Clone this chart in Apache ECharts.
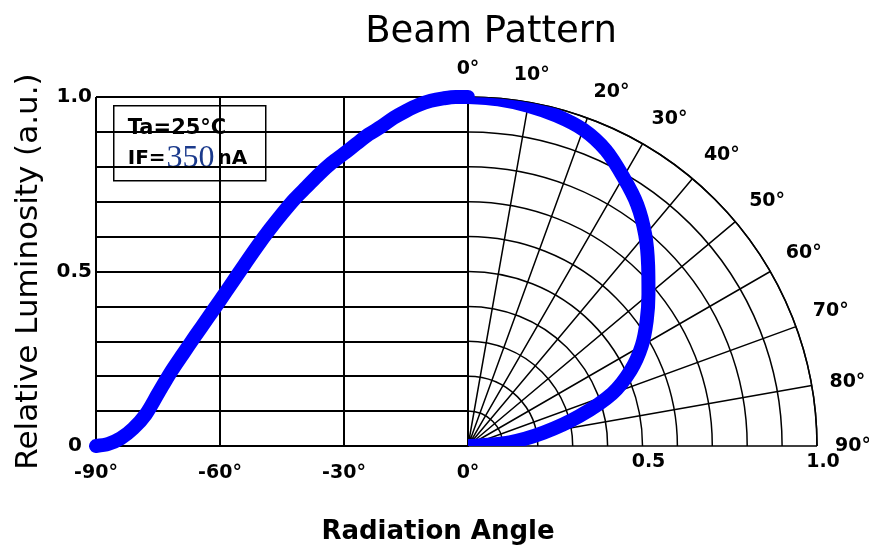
<!DOCTYPE html>
<html>
<head>
<meta charset="utf-8">
<script src="https://cdn.jsdelivr.net/npm/echarts@6/dist/echarts.min.js"></script>
<style>
  html, body { margin: 0; padding: 0; background: #ffffff; }
  #chart { width: 869px; height: 549px; }
</style>
</head>
<body>
<div id="chart"></div>
<script>
// left half: cartesian, angle (deg) vs relative luminosity
const leftAngles = [-90, -87, -84, -81, -78, -75, -72, -69, -66, -63, -60, -57, -54, -51, -48, -45,
  -42, -39, -36, -33, -30, -27, -24, -21, -18, -15, -12, -9, -6, -3, 0];
const leftValues = [0, 0.006, 0.022, 0.05, 0.09, 0.15, 0.21, 0.263, 0.315, 0.366, 0.417, 0.469, 0.521, 0.572, 0.62, 0.665,
  0.707, 0.743, 0.779, 0.811, 0.838, 0.866, 0.893, 0.915, 0.94, 0.96, 0.977, 0.989, 0.996, 1.0, 1.0];

// right half: polar, angle (deg) vs relative luminosity
const polarAngles = [0, 5, 10, 15, 20, 25, 30, 35, 40, 45, 50, 55, 60, 65, 70, 75, 80, 85, 90];
const polarValues = [1.0, 0.997, 0.99, 0.98, 0.965, 0.935, 0.89, 0.845, 0.79, 0.73, 0.675, 0.625, 0.575, 0.515, 0.44, 0.33, 0.22, 0.12, 0];

const xTicks = [-90, -60, -30, 0];
const yTickLabels = { 0: '0', 0.5: '0.5', 1: '1.0' };
const radiusTickLabels = { 0.5: '0.5', 1: '1.0' };

const CX = 468, CY = 446, R = 349;
const tickFont = { fontFamily: 'DejaVu Sans', fontWeight: 'bold', fontSize: 19, color: '#000' };

const chart = echarts.init(document.getElementById('chart'));

function pick(map, v) {
  for (const k in map) {
    if (Math.abs(Number(k) - v) < 1e-6) return map[k];
  }
  return '';
}

chart.setOption({
  backgroundColor: '#ffffff',
  animation: false,
  title: [
    {
      text: 'Beam Pattern',
      left: 486, top: 9, textAlign: 'center',
      textStyle: { fontFamily: 'DejaVu Sans', fontWeight: 'normal', fontSize: 37, color: '#000' }
    },
    {
      text: 'Radiation Angle',
      left: 433, top: 514, textAlign: 'center',
      textStyle: { fontFamily: 'DejaVu Sans', fontWeight: 'bold', fontSize: 26, color: '#000' }
    }
  ],
  grid: [
    { left: 96, top: 97, width: CX - 96, height: CY - 97, show: false },
    { left: CX, top: 97, width: R, height: CY - 97, show: false }
  ],
  xAxis: [
    {
      gridIndex: 0, type: 'value', min: -90, max: 0, interval: 30,
      axisLine: { show: true, lineStyle: { color: '#000', width: 2 } },
      axisTick: { show: false },
      splitLine: { show: true, lineStyle: { color: '#000', width: 2 } },
      axisLabel: Object.assign({ margin: 18, formatter: v => xTicks.indexOf(v) >= 0 ? v + '°' : '' }, tickFont)
    },
    {
      gridIndex: 1, type: 'value', min: 0, max: 1, interval: 0.5,
      axisLine: { show: false }, axisTick: { show: false }, splitLine: { show: false },
      axisLabel: Object.assign({ margin: 7, padding: [0, 0, 0, 12], formatter: v => pick(radiusTickLabels, v) }, tickFont)
    }
  ],
  yAxis: [
    {
      gridIndex: 0, type: 'value', min: 0, max: 1, interval: 0.1,
      name: 'Relative Luminosity (a.u.)',
      nameLocation: 'middle', nameRotate: 90, nameGap: 52,
      nameTextStyle: { fontFamily: 'DejaVu Sans', fontSize: 31, color: '#000' },
      axisLine: { show: true, lineStyle: { color: '#000', width: 2 } },
      axisTick: { show: false },
      splitLine: { show: true, lineStyle: { color: '#000', width: 2 } },
      axisLabel: Object.assign({
        margin: 4,
        formatter: v => {
          const s = pick(yTickLabels, v);
          return s === '0' ? '{z|0}' : s;
        },
        rich: { z: { padding: [0, 10, 0, 0], fontFamily: 'DejaVu Sans', fontWeight: 'bold', fontSize: 20 } }
      }, tickFont, { fontSize: 20 })
    },
    { gridIndex: 1, type: 'value', min: 0, max: 1, show: false }
  ],
  polar: { center: [CX, CY], radius: R },
  angleAxis: {
    type: 'value', min: 0, max: 90, interval: 10,
    startAngle: 90, endAngle: 0, clockwise: true,
    axisLine: { show: true, lineStyle: { color: '#000', width: 1.5 } },
    axisTick: { show: false },
    splitLine: { show: true, lineStyle: { color: '#000', width: 1.5 } },
    axisLabel: Object.assign({ margin: 18, formatter: v => v + '°' }, tickFont)
  },
  radiusAxis: {
    type: 'value', min: 0, max: 1, interval: 0.1,
    axisLine: { show: false }, axisTick: { show: false }, axisLabel: { show: false },
    splitLine: { show: true, lineStyle: { color: '#000', width: 1.5 } }
  },
  graphic: [
    {
      type: 'group', left: 113, top: 105,
      children: [
        { type: 'rect', shape: { x: 0, y: 0, width: 152, height: 75 },
          style: { fill: '#fff', stroke: '#000', lineWidth: 1.5 } },
        { type: 'text', x: 14, y: 23,
          style: { text: 'Ta=25°C', verticalAlign: 'middle',
            fontFamily: 'DejaVu Sans', fontWeight: 'bold', fontSize: 21, fill: '#000' } },
        { type: 'text', x: 14, y: 53,
          style: {
            text: '{a|IF=}{b|350}{a|nA}', verticalAlign: 'middle',
            rich: {
              a: { fontFamily: 'DejaVu Sans', fontWeight: 'bold', fontSize: 20, fill: '#000' },
              b: { fontFamily: 'Liberation Serif', fontSize: 32, fill: '#1b3a8c', padding: [0, 3, 0, 1] }
            }
          } }
      ]
    }
  ],
  series: [
    {
      type: 'line', xAxisIndex: 0, yAxisIndex: 0,
      data: leftAngles.map((a, i) => [a, leftValues[i]]),
      smooth: 0.3, symbol: 'none', z: 5,
      lineStyle: { color: '#0000ff', width: 14, cap: 'round', join: 'round' }
    },
    {
      type: 'line', coordinateSystem: 'polar',
      data: polarAngles.map((a, i) => [polarValues[i], a]),
      smooth: 0.3, symbol: 'none', z: 5,
      lineStyle: { color: '#0000ff', width: 14, cap: 'round', join: 'round' }
    }
  ]
});
</script>
</body>
</html>
